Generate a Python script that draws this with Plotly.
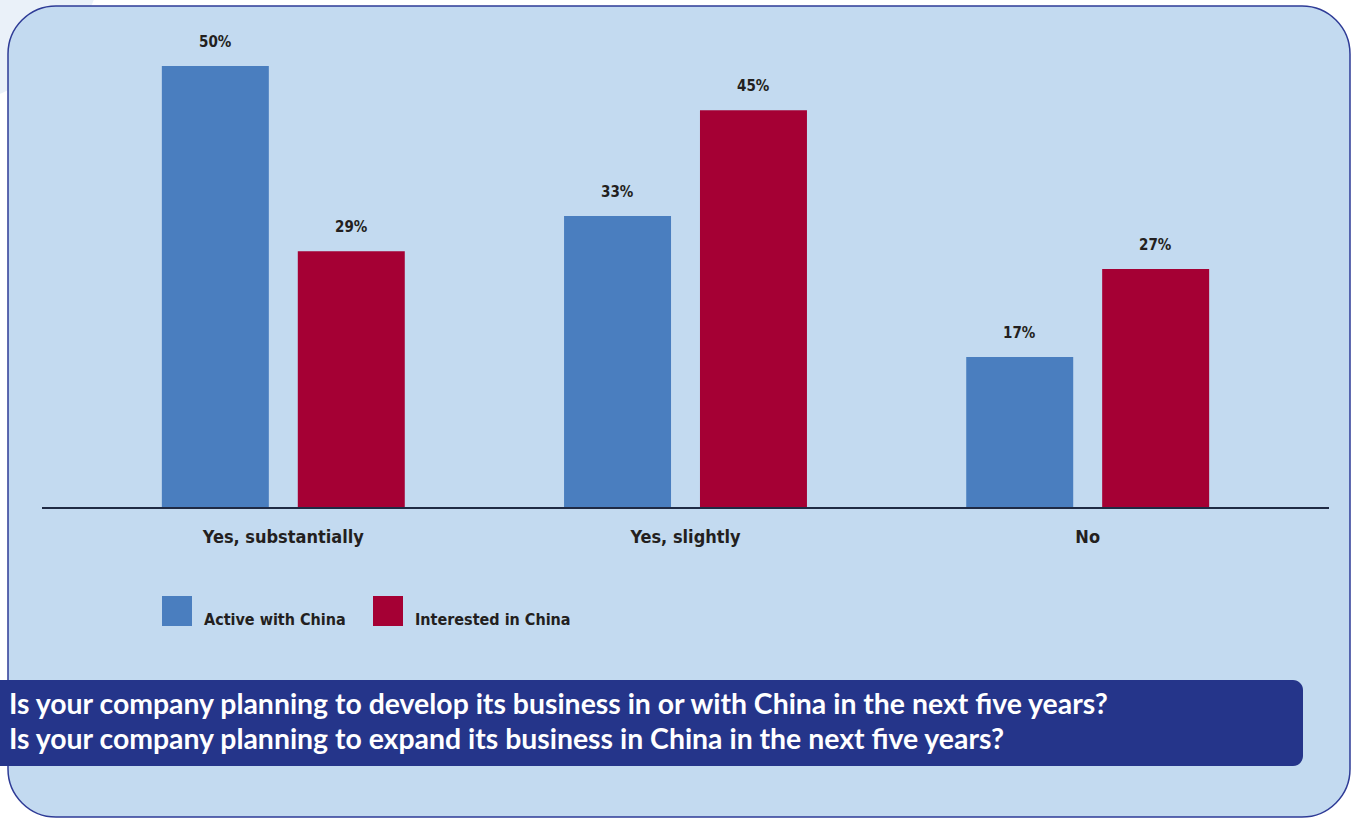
import plotly.graph_objects as go

# ---- data ----
categories = ["Yes, substantially", "Yes, slightly", "No"]
active_with_china = [50, 33, 17]
interested_in_china = [29, 45, 27]
series_names = ["Active with China", "Interested in China"]
title_lines = [
    "Is your company planning to develop its business in or with China in the next five years?",
    "Is your company planning to expand its business in China in the next five years?",
]

# ---- layout geometry (pixels) ----
W, H = 1357, 818
L, R_EDGE = 42, 1329      # plot area left/right in px
TOP, BASE = 22, 507       # plot area top/bottom in px
PW, PH = R_EDGE - L, BASE - TOP

BLUE = "#4A7EBF"
RED = "#A50034"
NAVY = "#25358A"
PANEL = "#C3DAF0"
TXT = "#231F20"
NARROW = "Liberation Sans Narrow, Arial Narrow, DejaVu Sans Condensed, sans-serif"

BAR_W = 0.266
OFF_BLUE = -0.302
OFF_RED = 0.036


def px(x):
    return (x - L) / PW


def py(y):
    return (BASE - y) / PH


def rounded_path(x0, y0, x1, y1, r_tl, r_tr, r_br, r_bl):
    k = 0.5523
    pts = []
    pts.append(f"M {px(x0 + r_tl)},{py(y0)}")
    pts.append(f"L {px(x1 - r_tr)},{py(y0)}")
    if r_tr:
        pts.append(f"C {px(x1 - r_tr + k*r_tr)},{py(y0)} {px(x1)},{py(y0 + r_tr - k*r_tr)} {px(x1)},{py(y0 + r_tr)}")
    pts.append(f"L {px(x1)},{py(y1 - r_br)}")
    if r_br:
        pts.append(f"C {px(x1)},{py(y1 - r_br + k*r_br)} {px(x1 - r_br + k*r_br)},{py(y1)} {px(x1 - r_br)},{py(y1)}")
    pts.append(f"L {px(x0 + r_bl)},{py(y1)}")
    if r_bl:
        pts.append(f"C {px(x0 + r_bl - k*r_bl)},{py(y1)} {px(x0)},{py(y1 - r_bl + k*r_bl)} {px(x0)},{py(y1 - r_bl)}")
    pts.append(f"L {px(x0)},{py(y0 + r_tl)}")
    if r_tl:
        pts.append(f"C {px(x0)},{py(y0 + r_tl - k*r_tl)} {px(x0 + r_tl - k*r_tl)},{py(y0)} {px(x0 + r_tl)},{py(y0)}")
    pts.append("Z")
    return " ".join(pts)


fig = go.Figure()
fig.add_trace(go.Bar(
    x=categories, y=active_with_china, name=series_names[0],
    marker=dict(color=BLUE, line=dict(width=0)),
    width=BAR_W, offset=OFF_BLUE, hoverinfo="x+y",
))
fig.add_trace(go.Bar(
    x=categories, y=interested_in_china, name=series_names[1],
    marker=dict(color=RED, line=dict(width=0)),
    width=BAR_W, offset=OFF_RED, hoverinfo="x+y",
))

shapes = []
# faint decorative circle in the top-left corner
shapes.append(dict(type="circle", xref="paper", yref="paper",
                   x0=px(-225), x1=px(105), y0=py(-225), y1=py(105),
                   fillcolor="#EAF1F9", line=dict(width=0), layer="below"))
# main rounded panel
shapes.append(dict(type="path", xref="paper", yref="paper",
                   path=rounded_path(8, 6, 1350, 817, 48, 48, 48, 48),
                   fillcolor=PANEL, line=dict(color="#2E3B96", width=1.5), layer="below"))
# title box
shapes.append(dict(type="path", xref="paper", yref="paper",
                   path=rounded_path(-4, 680, 1303, 766, 0, 10, 10, 0),
                   fillcolor=NAVY, line=dict(width=0), layer="below"))
# legend swatches
shapes.append(dict(type="rect", xref="paper", yref="paper",
                   x0=px(162), x1=px(192), y0=py(626), y1=py(596),
                   fillcolor=BLUE, line=dict(width=0)))
shapes.append(dict(type="rect", xref="paper", yref="paper",
                   x0=px(373), x1=px(403), y0=py(626), y1=py(596),
                   fillcolor=RED, line=dict(width=0)))

annotations = []
# value labels
for i, v in enumerate(active_with_china):
    annotations.append(dict(x=i + OFF_BLUE + BAR_W / 2, y=v, xref="x", yref="y",
                            text=f"<b>{v}%</b>", showarrow=False, yshift=24,
                            font=dict(family=NARROW, size=15, color=TXT)))
for i, v in enumerate(interested_in_china):
    annotations.append(dict(x=i + OFF_RED + BAR_W / 2, y=v, xref="x", yref="y",
                            text=f"<b>{v}%</b>", showarrow=False, yshift=24,
                            font=dict(family=NARROW, size=15, color=TXT)))
# legend labels
for xl, name in zip([202, 413], series_names):
    annotations.append(dict(x=px(xl), y=py(619), xref="paper", yref="paper",
                            xanchor="left", yanchor="middle", showarrow=False,
                            text=f"<b>{name}</b>",
                            font=dict(family=NARROW, size=16, color=TXT)))
# title lines
for yl, line in zip([703, 738], title_lines):
    annotations.append(dict(x=px(7), y=py(yl), xref="paper", yref="paper",
                            xanchor="left", yanchor="middle", showarrow=False,
                            text=f"<b>{line}</b>",
                            font=dict(family="Lato, Noto Sans, sans-serif", size=28.4, color="white")))

fig.update_layout(
    width=W, height=H,
    margin=dict(l=L, r=W - R_EDGE, t=TOP, b=H - BASE),
    paper_bgcolor="white", plot_bgcolor="rgba(0,0,0,0)",
    showlegend=False,
    barmode="overlay",
    shapes=shapes, annotations=annotations,
    xaxis=dict(type="category", range=[-0.6, 2.6], showgrid=False, zeroline=False,
               showline=True, linecolor="#1F2A44", linewidth=1.5, ticks="",
               ticklabelstandoff=13,
               tickfont=dict(family=NARROW, size=18, color=TXT),
               tickvals=categories, ticktext=[f"<b>{c}</b>" for c in categories],
               fixedrange=True),
    yaxis=dict(range=[0, 55], showgrid=False, zeroline=False, showticklabels=False,
               showline=False, fixedrange=True),
)

fig.write_html("out.html")
